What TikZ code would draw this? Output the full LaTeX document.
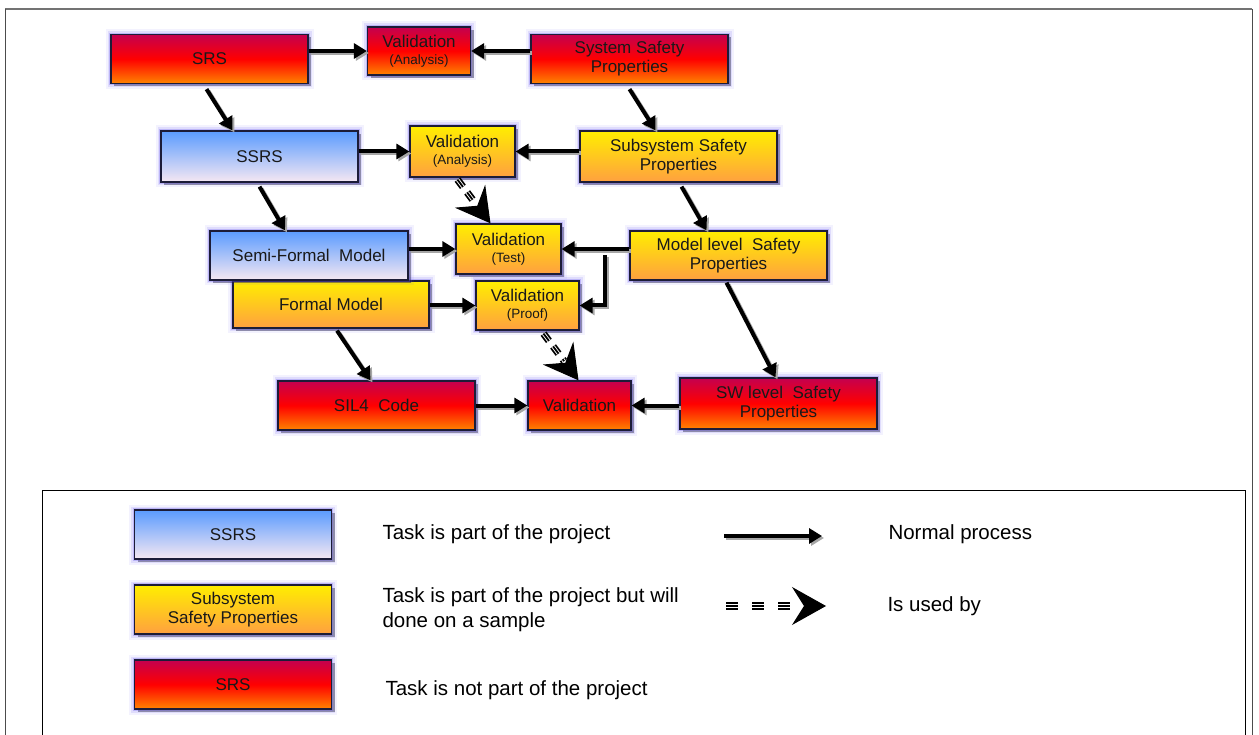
\documentclass[tikz,border=0pt]{standalone}
\usepackage{fontspec}
\setmainfont{Liberation Sans}
\usetikzlibrary{arrows.meta,calc,shadows}

\definecolor{redtop}{HTML}{C4004F}
\definecolor{redmid}{HTML}{FF0000}
\definecolor{redbot}{HTML}{FF8400}
\definecolor{yeltop}{HTML}{FFEE00}
\definecolor{yelbot}{HTML}{FFA040}
\definecolor{bluetop}{HTML}{5A9BFF}
\definecolor{bluebot}{HTML}{F6E8F2}
\definecolor{glow}{HTML}{6A5CF0}
\definecolor{boxline}{HTML}{1C1C38}

\newcommand{\boxfont}{\fontsize{17}{19}\selectfont}
\newcommand{\subfont}{\fontsize{13.5}{15}\selectfont}
\newcommand{\legfont}{\fontsize{20.5}{25}\selectfont}

\tikzset{
  task/.style={draw=boxline, line width=1.3pt, minimum width=197pt, minimum height=49pt,
    inner sep=0pt, align=center, font=\boxfont, text=black!90,
    drop shadow={shadow xshift=3pt, shadow yshift=-3pt, opacity=0.4, fill=black},
    preaction={draw=glow, line width=11pt, draw opacity=0.08},
    preaction={draw=glow, line width=7pt, draw opacity=0.15},
    preaction={draw=glow, line width=3.5pt, draw opacity=0.3}},
  valbox/.style={task, minimum width=103pt},
  inproject/.style={top color=bluetop, bottom color=bluebot},
  sample/.style={top color=yeltop, bottom color=yelbot},
  outproject/.style={top color=redtop, bottom color=redbot, middle color=redmid},
  proc/.style={line width=4pt, -{Triangle[length=13pt,width=15pt]},
    preaction={draw=black!35, line width=4pt, -{Triangle[length=13pt,width=15pt]},
      transform canvas={shift={(2pt,-2pt)}}}},
  usedstem/.style={line width=1.8pt, dash pattern=on 9pt off 7pt, shorten >=24pt},
  usedhead/.style={line width=1pt, -{Stealth[length=34pt,width=38pt,inset=12pt]}}
}

% dashed "is used by" arrow, drawn as three stripes and a big head
\newcommand{\usedby}[3][]{%
  \draw[usedstem, #1, double=white, double distance=3.6pt] (#2) -- (#3);
  \draw[usedstem, #1] (#2) -- (#3);
  \draw[usedhead] ($(#2)!0.85!(#3)$) -- (#3);
}

\begin{document}
\begin{tikzpicture}[x=1pt, y=-1pt]

  \useasboundingbox (0,0) rectangle (1259,735);

  % Frames
  \draw[black!55, line width=2pt] (5,9) -- (1252,9);
  \draw[black!70, line width=1pt] (5,9) -- (5,760);
  \draw[black!70, line width=1pt] (1252,9) -- (1252,760);
  \draw[black, line width=1pt] (42,490) rectangle (1245,770);

  % System level
  \node[task, outproject] (srs) at (209.5,59) {SRS};
  \node[valbox, outproject, minimum height=48pt] (valtop) at (419,51) {Validation\\[-2pt]{\subfont (Analysis)}};
  \node[task, outproject] (sysprop) at (629.5,59) {System Safety\\Properties};

  % Subsystem level
  \node[task, inproject, minimum height=51pt] (ssrs) at (259.5,156.5) {SSRS};
  \node[valbox, sample, minimum width=105pt, minimum height=51pt] (valana) at (462.5,151.5) {Validation\\[-2pt]{\subfont (Analysis)}};
  \node[task, sample, minimum height=51pt] (subprop) at (678.5,156.5) {Subsystem Safety\\Properties};

  % Model level
  \node[task, sample, minimum width=196pt, minimum height=47pt] (formal) at (331,304.5) {Formal Model};
  \node[task, inproject, minimum width=198pt] (semi) at (309,255.5) {Semi-Formal\ \ Model};
  \node[valbox, sample, minimum width=105pt, minimum height=50pt] (valtest) at (508.5,249) {Validation\\[-2pt]{\subfont (Test)}};
  \node[task, sample] (modprop) at (728.5,255.5) {Model level\ \ Safety\\Properties};
  \node[valbox, sample] (valproof) at (527.5,305.5) {Validation\\[-2pt]{\subfont (Proof)}};

  % Software level
  \node[task, outproject] (sil) at (376.5,405.5) {SIL4\ \ Code};
  \node[valbox, outproject] (valbot) at (579.5,405.5) {Validation};
  \node[task, outproject, minimum height=51pt] (swprop) at (778.5,403.5) {SW level\ \ Safety\\Properties};

  % Normal process arrows
  \draw[proc] (srs.east |- valtop.west) -- (valtop.west);
  \draw[proc] (sysprop.west |- valtop.east) -- (valtop.east);
  \draw[proc] ([xshift=-3pt,yshift=-5pt]srs.south) -- ([xshift=-27pt]ssrs.north);
  \draw[proc] ([yshift=-5pt]sysprop.south) -- ([xshift=-23pt]subprop.north);
  \draw[proc] (ssrs.east |- valana.west) -- (valana.west);
  \draw[proc] (subprop.west |- valana.east) -- (valana.east);
  \draw[proc] ([yshift=-4pt]ssrs.south) -- ([xshift=-24pt]semi.north);
  \draw[proc] ([xshift=3pt,yshift=-4pt]subprop.south) -- ([xshift=-22pt]modprop.north);
  \draw[proc] (semi.east |- valtest.west) -- (valtest.west);
  \draw[proc] (modprop.west |- valtest.east) -- (valtest.east);
  \coordinate (split) at (605,255.5);
  \draw[proc] (split) |- (valproof.east);
  \draw[proc] (formal.east |- valproof.west) -- (valproof.west);
  \draw[proc] ([xshift=6pt,yshift=-2pt]formal.south) -- ([xshift=-6pt]sil.north);
  \draw[proc] ([xshift=-2pt,yshift=-2pt]modprop.south) -- ([xshift=-3pt]swprop.north);
  \draw[proc] (sil.east |- valbot.west) -- (valbot.west);
  \draw[proc] (swprop.west |- valbot.east) -- (valbot.east);

  % Is used by arrows
  \usedby{[xshift=-5pt,yshift=-2pt]valana.south}{[xshift=-18pt]valtest.north}
  \usedby{[xshift=16pt,yshift=-3pt]valproof.south}{[xshift=-1pt]valbot.north}

  % Legend
  \node[task, inproject] (lgin) at (233,534.5) {SSRS};
  \node[task, sample] (lgsample) at (233,609.5) {Subsystem\\Safety Properties};
  \node[task, outproject] (lgout) at (233,684.5) {SRS};
  \node[anchor=west, font=\legfont] (lgintxt) at (379,534) {Task is part of the project};
  \node[anchor=west, font=\legfont, align=left] (lgsampletxt) at (379,610) {Task is part of the project but will\\done on a sample};
  \node[anchor=west, font=\legfont] (lgouttxt) at (382,690) {Task is not part of the project};

  \coordinate (lgprocA) at (724,536);
  \coordinate (lgprocB) at (822,536);
  \draw[proc] (lgprocA) -- (lgprocB);
  \node[anchor=west, font=\legfont] (lgproctxt) at (885,534) {Normal process};

  \coordinate (lgusedA) at (726,606);
  \coordinate (lgusedB) at (826,606);
  \usedby[dash pattern=on 12pt off 14pt]{lgusedA}{lgusedB}
  \node[anchor=west, font=\legfont] (lgusedtxt) at (884,606) {Is used by};

\end{tikzpicture}
\end{document}
